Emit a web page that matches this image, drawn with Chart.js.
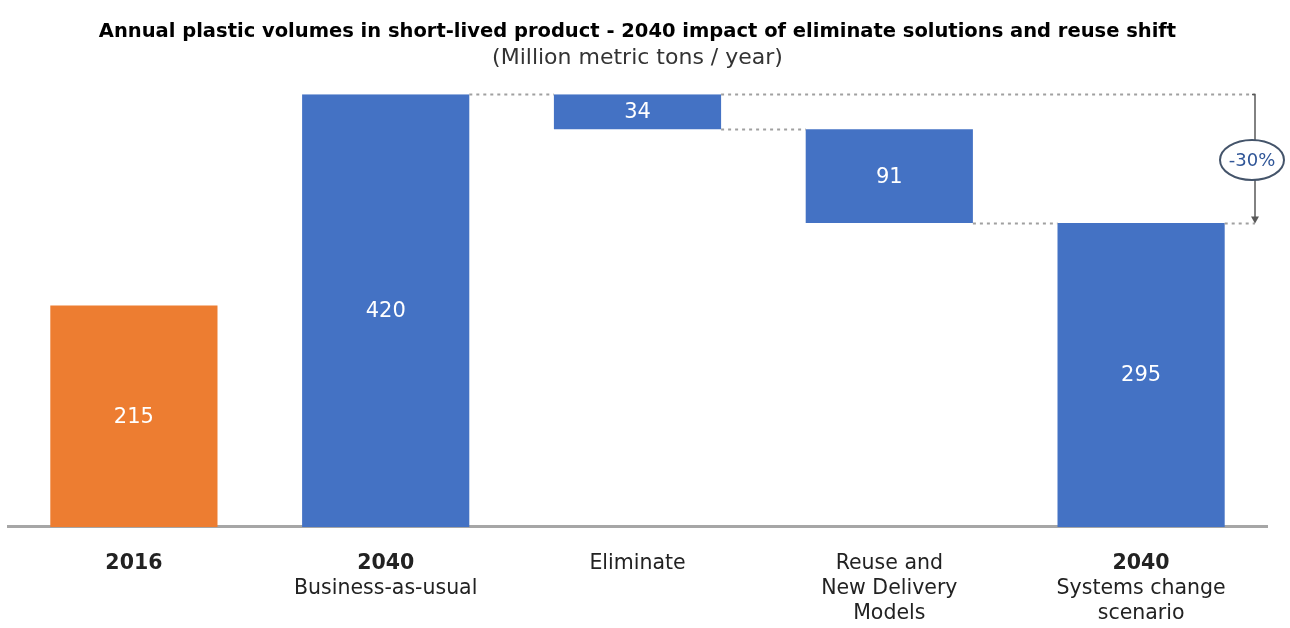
<!DOCTYPE html>
<html><head><meta charset="utf-8">
<script src="https://cdn.jsdelivr.net/npm/chart.js@4"></script>
<style>html,body{margin:0;padding:0;background:#fff}canvas{display:block}</style>
</head><body>
<canvas id="c" width="1290" height="628"></canvas>
<script>
const categories = ["2016", "2040 BAU", "Eliminate", "Reuse", "2040 SC"];
const labelLine1 = ["2016", "2040", "Eliminate", "Reuse and", "2040"];
const labelRest = ["", "Business-as-usual", "", ["New Delivery", "Models"], ["Systems change", "scenario"]];
const boldLabels = [true, true, false, false, true];
const values = [215, 420, 34, 91, 295];
const kinds = ["total", "total", "decrease", "decrease", "total"];
const barColors = ["#ED7D31", "#4472C4", "#4472C4", "#4472C4", "#4472C4"];
const changeLabel = "-30%";

const FONT = "'DejaVu Sans', sans-serif";

// floating ranges for the waterfall
const ranges = [];
const levelsAfter = [];
let level = 0;
values.forEach((v, i) => {
  if (kinds[i] === "total") { ranges.push([0, v]); level = v; }
  else { ranges.push([level - v, level]); level = level - v; }
  levelsAfter.push(level);
});

const waterfallPlugin = {
  id: "waterfallDeco",
  afterDatasetsDraw(chart) {
    const ctx = chart.ctx;
    const meta = chart.getDatasetMeta(0);
    const y = chart.scales.y;
    const bars = meta.data;
    const right = i => bars[i].x + bars[i].width / 2;
    const left = i => bars[i].x - bars[i].width / 2;
    const arrowX = chart.chartArea.right - 12;

    ctx.save();
    // connectors
    ctx.strokeStyle = "#A0A0A0";
    ctx.lineWidth = 2;
    ctx.setLineDash([3, 4]);
    const seg = (x1, x2, yy) => { ctx.beginPath(); ctx.moveTo(x1, yy); ctx.lineTo(x2, yy); ctx.stroke(); };
    for (let i = 1; i < bars.length - 1; i++) {
      seg(right(i), left(i + 1), Math.round(y.getPixelForValue(levelsAfter[i])) + 0.5);
    }
    const firstDec = kinds.indexOf("decrease");
    const startLevel = levelsAfter[firstDec - 1];
    const endLevel = levelsAfter[bars.length - 1];
    const yTop = Math.round(y.getPixelForValue(startLevel)) + 0.5;
    const yBot = Math.round(y.getPixelForValue(endLevel)) + 0.5;
    seg(right(firstDec), arrowX, yTop);
    seg(right(bars.length - 1), arrowX, yBot);
    ctx.setLineDash([]);

    // arrow
    const cy = (yTop + yBot) / 2 + 1;
    const rx = 32, ry = 20;
    ctx.strokeStyle = "#595959";
    ctx.lineWidth = 1.5;
    ctx.beginPath();
    ctx.moveTo(arrowX - 3, yTop); ctx.lineTo(arrowX, yTop);
    ctx.lineTo(arrowX, cy - ry);
    ctx.moveTo(arrowX, cy + ry); ctx.lineTo(arrowX, yBot - 5);
    ctx.stroke();
    ctx.fillStyle = "#595959";
    ctx.beginPath();
    ctx.moveTo(arrowX - 4, yBot - 7); ctx.lineTo(arrowX + 4, yBot - 7); ctx.lineTo(arrowX, yBot); ctx.closePath();
    ctx.fill();

    // ellipse
    ctx.beginPath();
    ctx.ellipse(arrowX - 3, cy, rx, ry, 0, 0, Math.PI * 2);
    ctx.fillStyle = "#fff"; ctx.fill();
    ctx.strokeStyle = "#44546A"; ctx.lineWidth = 2; ctx.stroke();
    ctx.fillStyle = "#2F5597";
    ctx.font = "18px " + FONT;
    ctx.textAlign = "center"; ctx.textBaseline = "middle";
    ctx.fillText(changeLabel, arrowX - 3, cy + 1);

    // value labels
    ctx.fillStyle = "#fff";
    ctx.font = "21px " + FONT;
    bars.forEach((b, i) => {
      ctx.fillText(String(values[i]), b.x, (b.y + b.base) / 2 + 1);
    });
    ctx.restore();
  }
};

new Chart(document.getElementById("c"), {
  type: "bar",
  data: {
    labels: categories,
    datasets: [{
      data: ranges,
      backgroundColor: barColors,
      borderWidth: 0,
      barPercentage: 0.664,
      categoryPercentage: 1.0
    }]
  },
  options: {
    responsive: false,
    animation: false,
    layout: { padding: { left: 8, right: 23, top: 0, bottom: 1.4 } },
    plugins: {
      legend: { display: false },
      tooltip: { enabled: false },
      title: {
        display: true,
        text: "Annual plastic volumes in short-lived product - 2040 impact of eliminate solutions and reuse shift",
        color: "#000",
        font: { family: FONT, size: 19.5, weight: "bold" },
        padding: { top: 20, bottom: 0 }
      },
      subtitle: {
        display: true,
        text: "(Million metric tons / year)",
        color: "#333",
        font: { family: FONT, size: 22, weight: "normal" },
        padding: { top: 1.2, bottom: 23.2 }
      }
    },
    scales: {
      y: { display: false, min: 0, max: 420 },
      x: {
        weight: 0,
        grid: { display: true, drawOnChartArea: false, drawTicks: true, tickLength: 24, color: "rgba(0,0,0,0)" },
        border: { display: true, color: "#A6A6A6", width: 3 },
        ticks: {
          autoSkip: false, maxRotation: 0, padding: 0,
          color: "#222",
          callback: (v, i) => labelLine1[i],
          font: (c) => ({ family: FONT, size: 20.5, weight: boldLabels[c.index] ? "bold" : "normal", lineHeight: 1.2 })
        }
      },
      x2: {
        type: "category",
        position: "bottom",
        weight: 1,
        labels: categories,
        offset: true,
        grid: { display: true, drawOnChartArea: false, drawTicks: true, tickLength: 1, color: "rgba(0,0,0,0)" },
        border: { display: false },
        ticks: {
          autoSkip: false, maxRotation: 0, padding: 0,
          color: "#222",
          callback: (v, i) => labelRest[i],
          font: { family: FONT, size: 20.5, lineHeight: 1.22 }
        }
      }
    }
  },
  plugins: [waterfallPlugin]
});
</script>
</body></html>
